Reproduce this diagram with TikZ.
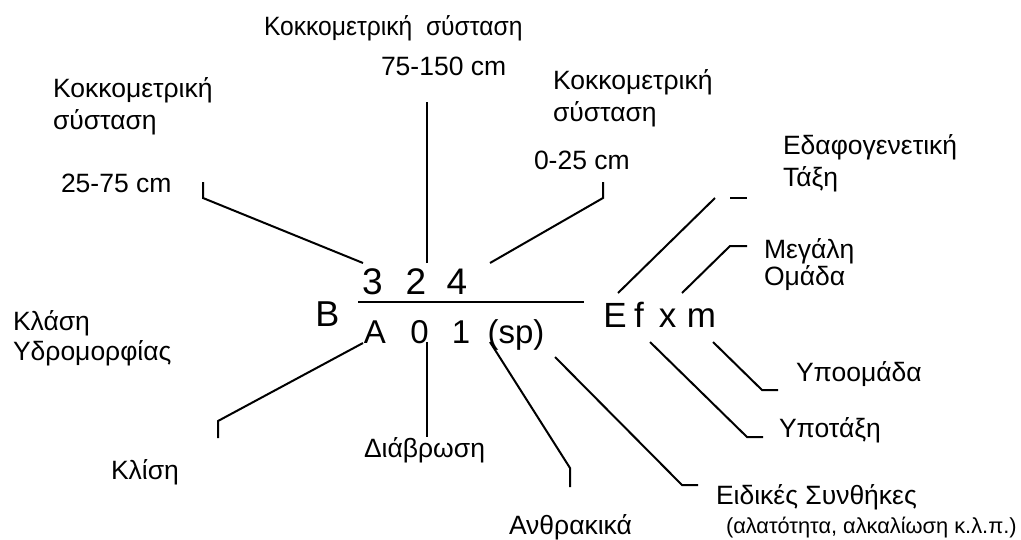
\documentclass[tikz,border=0pt]{standalone}
\usepackage{fontspec}
\usepackage{graphicx}
\setmainfont{Liberation Sans}
\usetikzlibrary{calc}

\newcommand{\lblfont}{\fontsize{26.5}{32}\selectfont}

\begin{document}
\begin{tikzpicture}[x=1pt,y=-1pt,line width=2pt,
    sym/.style={inner sep=0,anchor=base,font=\fontsize{#1}{#1}\selectfont},
    sym/.default=35,
    lbl/.style={inner sep=0,anchor=base west,align=left,font=\lblfont}]
  \useasboundingbox (0,0) rectangle (1021,539);
  % the symbol: B 324/A01(sp) Efxm
  \node[sym=36] (B) at (327.5,326) {B};
  \foreach \x/\c/\n in {372.5/3/d3, 416/2/d2, 457/4/d4} {
    \node[sym=37] (\n) at (\x,294) {\c};
  }
  \foreach \x/\c/\n in {375/A/A, 419.5/0/z0, 461/1/o1, 516/(sp)/sp} {
    \node[sym=33] (\n) at (\x,343) {\c};
  }
  \foreach \x/\c/\n in {615/E/E, 639/f/f, 667.5/x/x, 701.5/m/m} {
    \node[sym=35] (\n) at (\x,327) {\c};
  }
  \draw (358,302) -- (584,302);
  % labels (base = last line)
  \node[lbl] (lTop) at (263,35) {\scalebox{0.93}[1]{Κοκκομετρική\ \ σύσταση}};
  \node[lbl] (l150) at (380,75) {75-150 cm};
  \node[lbl] (lL) at (52,129) {Κοκκομετρική\\σύσταση};
  \node[lbl] (l75) at (60,192) {25-75 cm};
  \node[lbl] (lR) at (552,121) {Κοκκομετρική\\σύσταση};
  \node[lbl] (l25) at (533,169) {0-25 cm};
  \node[lbl] (lTax) at (782,186) {Εδαφογενετική\\Τάξη};
  \node[lbl,font=\fontsize{26.5}{27}\selectfont] (lMeg) at (763,285) {Μεγάλη\\Ομάδα};
  \node[lbl,font=\fontsize{26.5}{30}\selectfont] (lKlasi) at (12,360) {Κλάση\\Υδρομορφίας};
  \node[lbl] (lKlisi) at (110,479) {Κλίση};
  \node[lbl] (lDiav) at (363,457) {Διάβρωση};
  \node[lbl] (lAnth) at (508,534) {Ανθρακικά};
  \node[lbl] (lEid) at (715,504) {Ειδικές Συνθήκες};
  \node[lbl,font=\fontsize{21.8}{24}\selectfont] (lEid2) at (725,533) {(αλατότητα, αλκαλίωση κ.λ.π.)};
  \node[lbl] (lYpot) at (778,437) {Υποτάξη};
  \node[lbl] (lYpoo) at (795,381) {Υποομάδα};
  % elbows of the leader lines
  \coordinate (k75) at (203,198);
  \coordinate (k150) at (427,102);
  \coordinate (k25) at (603,198);
  \coordinate (kTax) at (715,198);
  \coordinate (kMeg) at (730,246);
  \coordinate (kYpoo) at (762,390);
  \coordinate (kYpot) at (747,437);
  \coordinate (kEid) at (682,485);
  \coordinate (kAnth) at (570,468);
  \coordinate (kDiav) at (427,437);
  \coordinate (kKlisi) at (218,421);
  % leader lines
  \draw ([shift={(-9.5,-31)}]d3.base) -- (k75) -- ++(0,-16);
  \draw ([shift={(11,-31)}]d2.base) -- (k150);
  \draw ([shift={(33,-31)}]d4.base) -- (k25) -- ++(0,-16);
  \draw ([shift={(3,-34)}]E.base) -- (kTax);
  \draw ([shift={(15,0)}]kTax) -- ++(17,0);
  \draw ([shift={(14.5,-34)}]x.base) -- (kMeg) -- ++(17,0);
  \draw ([shift={(11.5,15)}]m.base) -- (kYpoo) -- ++(16,0);
  \draw ([shift={(11,15)}]f.base) -- (kYpot) -- ++(16,0);
  \draw ([shift={(39,14)}]sp.base) -- (kEid) -- ++(16,0);
  \draw ([shift={(-26,-1)}]sp.base) -- (kAnth) -- ++(0,19);
  \draw ([shift={(7.5,-1)}]z0.base) -- (kDiav);
  \draw ([shift={(-12,0)}]A.base) -- (kKlisi) -- ++(0,17);
\end{tikzpicture}
\end{document}
